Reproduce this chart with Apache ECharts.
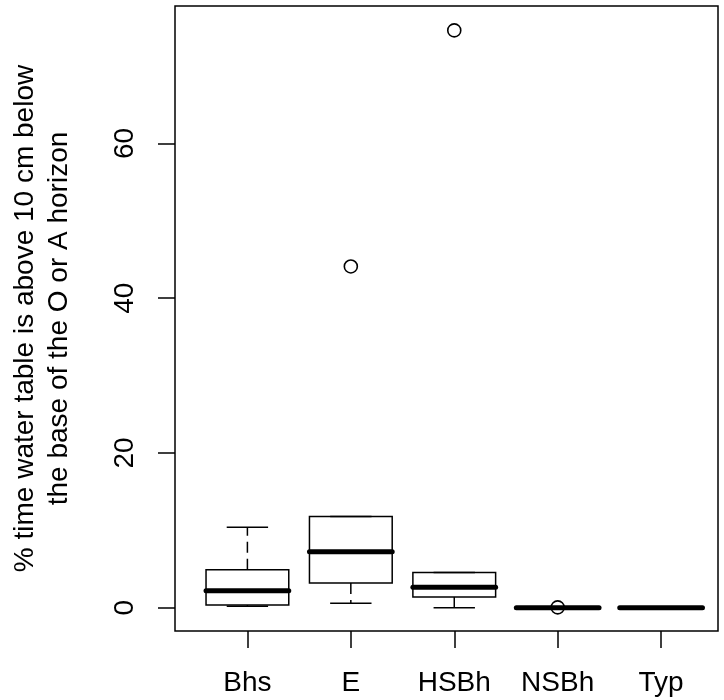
<!DOCTYPE html>
<html>
<head>
<meta charset="utf-8">
<script src="https://cdn.jsdelivr.net/npm/echarts@6/dist/echarts.min.js"></script>
<style>
  html, body { margin: 0; padding: 0; background: #fff; }
  #chart { width: 724px; height: 700px; }
</style>
</head>
<body>
<div id="chart"></div>
<script>
// box statistics, one entry per soil group
const categories = ['Bhs', 'E', 'HSBh', 'NSBh', 'Typ'];
const lowerWhisker = [0.2, 0.6, 0, 0, 0];
const lowerHinge = [0.35, 3.2, 1.4, 0, 0];
const medians = [2.2, 7.25, 2.65, 0, 0];
const upperHinge = [4.9, 11.8, 4.55, 0, 0];
const upperWhisker = [10.4, 11.8, 4.55, 0, 0];

// outliers: group position (1-based) and value
const outlierPos = [2, 3, 4];
const outlierValues = [44.1, 74.6, 0.05];

const yTicks = [0, 20, 40, 60];
const FONT = '"Liberation Sans", Arial, Helvetica, sans-serif';

const boxData = categories.map((c, i) => [i + 1, lowerWhisker[i], lowerHinge[i], medians[i], upperHinge[i], upperWhisker[i]]);
const outlierData = outlierPos.map((p, i) => [p, outlierValues[i]]);

function renderBox(params, api) {
  const x = api.value(0);
  const pLo = api.coord([x, api.value(1)]);
  const pQ1 = api.coord([x, api.value(2)]);
  const pMed = api.coord([x, api.value(3)]);
  const pQ3 = api.coord([x, api.value(4)]);
  const pHi = api.coord([x, api.value(5)]);
  const half = api.size([0.4, 0])[0];
  const staple = half / 2;
  const cx = pMed[0];
  const stroke = { stroke: '#000', lineWidth: 1.5, fill: null };
  const dashed = { stroke: '#000', lineWidth: 1.5, lineDash: [11, 6] };
  return {
    type: 'group',
    children: [
      { type: 'line', shape: { x1: cx, y1: pQ3[1], x2: cx, y2: pHi[1] }, style: dashed },
      { type: 'line', shape: { x1: cx, y1: pQ1[1], x2: cx, y2: pLo[1] }, style: dashed },
      { type: 'line', shape: { x1: cx - staple, y1: pHi[1], x2: cx + staple, y2: pHi[1] }, style: stroke },
      { type: 'line', shape: { x1: cx - staple, y1: pLo[1], x2: cx + staple, y2: pLo[1] }, style: stroke },
      { type: 'rect', shape: { x: cx - half, y: pQ3[1], width: half * 2, height: pQ1[1] - pQ3[1] }, style: stroke },
      { type: 'line', shape: { x1: cx - half, y1: pMed[1], x2: cx + half, y2: pMed[1] },
        style: { stroke: '#000', lineWidth: 5, lineCap: 'round' } }
    ]
  };
}

const chart = echarts.init(document.getElementById('chart'));
chart.setOption({
  animation: false,
  backgroundColor: '#fff',
  grid: {
    left: 173, top: 6, width: 545, height: 625,
    show: true, borderColor: '#000', borderWidth: 1.5, backgroundColor: 'transparent'
  },
  xAxis: {
    type: 'value', min: 0.3, max: 5.55,
    axisLine: { show: false, onZero: false },
    splitLine: { show: false },
    axisTick: { show: true, length: 17, customValues: [1, 2, 3, 4, 5], lineStyle: { color: '#000', width: 1.5 } },
    axisLabel: {
      customValues: [1, 2, 3, 4, 5],
      formatter: v => categories[Math.round(v) - 1] || '',
      margin: 38, color: '#000', fontSize: 28, fontFamily: FONT
    }
  },
  yAxis: {
    type: 'value', min: -3, max: 77.75,
    name: '% time water table is above 10 cm below\nthe base of the O or A horizon',
    nameLocation: 'middle', nameRotate: 90, nameGap: 99,
    nameTextStyle: { color: '#000', fontSize: 28, lineHeight: 34, fontFamily: FONT },
    axisLine: { show: false, onZero: false },
    splitLine: { show: false },
    axisTick: { show: true, length: 17, customValues: yTicks, lineStyle: { color: '#000', width: 1.5 } },
    axisLabel: {
      customValues: yTicks, rotate: 90,
      margin: 36, color: '#000', fontSize: 28, fontFamily: FONT
    }
  },
  series: [
    {
      type: 'custom',
      renderItem: renderBox,
      encode: { x: 0, y: [1, 2, 3, 4, 5] },
      data: boxData
    },
    {
      type: 'scatter',
      symbol: 'circle',
      symbolSize: 13,
      itemStyle: { color: 'rgba(0,0,0,0)', borderColor: '#000', borderWidth: 1.6, opacity: 1 },
      emphasis: { disabled: true },
      data: outlierData,
      z: 3
    }
  ]
});
</script>
</body>
</html>
